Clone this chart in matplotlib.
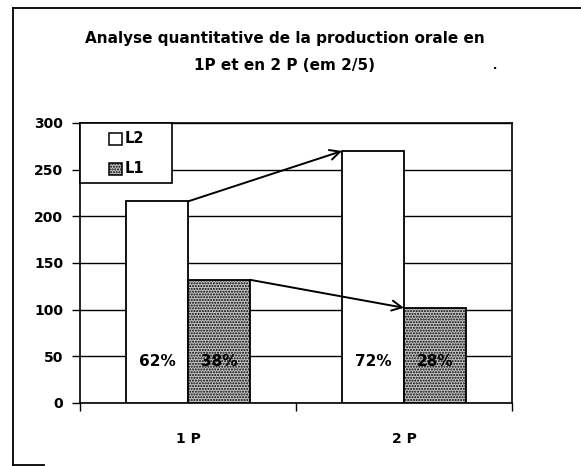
import matplotlib.pyplot as plt
from matplotlib.patches import Rectangle
from matplotlib.lines import Line2D

# --- data ---
categories = ['1 P', '2 P']
series_names = ['L2', 'L1']
l2_values = [216, 270]
l1_values = [132, 102]
l2_pct = ['62%', '72%']
l1_pct = ['38%', '28%']

plt.rcParams['font.family'] = ['DejaVu Sans']
plt.rcParams['font.weight'] = 'bold'
plt.rcParams['hatch.linewidth'] = 1.0

W, H = 581, 466
fig = plt.figure(figsize=(W / 100, H / 100), dpi=100)
ax = fig.add_axes([80 / W, 63 / H, 432 / W, 280 / H])

# scanned page frame: left edge, top edge and a short bottom stub
fig.add_artist(Line2D([13 / W, 13 / W], [1 - 8 / H, 1 - 465 / H], color='black', lw=1.3))
fig.add_artist(Line2D([13 / W, 1.0], [1 - 8 / H, 1 - 8 / H], color='black', lw=1.3))
fig.add_artist(Line2D([13 / W, 44 / W], [1 - 465 / H, 1 - 465 / H], color='black', lw=1.3))

x = list(range(len(categories)))
w = 0.287
x_l2 = [i - w / 2 for i in x]
x_l1 = [i + w / 2 for i in x]
l1_face = '#c4c4c4'
l1_hatch = '......'

ax.bar(x_l2, l2_values, width=w, color='white', edgecolor='black', linewidth=1.3, zorder=3)
ax.bar(x_l1, l1_values, width=w, color=l1_face, edgecolor='black', linewidth=1.3,
       hatch=l1_hatch, zorder=3)

# percentage labels inside the bars
for i in x:
    ax.text(x_l2[i], 45, l2_pct[i], ha='center', va='center', fontsize=11, zorder=5)
    ax.text(x_l1[i], 45, l1_pct[i], ha='center', va='center', fontsize=11, zorder=5)

# arrows from 1P bars to 2P bars
arrow_style = dict(arrowstyle='->', color='black', lw=1.4, mutation_scale=18, shrinkA=0, shrinkB=0)
ax.annotate('', xy=(x_l2[1] - w / 2, l2_values[1]), xytext=(x_l2[0] + w / 2, l2_values[0]),
            arrowprops=arrow_style, zorder=6)
ax.annotate('', xy=(x_l1[1] - w / 2, l1_values[1]), xytext=(x_l1[0] + w / 2, l1_values[0]),
            arrowprops=arrow_style, zorder=6)

ax.set_xlim(-0.5, 1.5)
ax.set_ylim(0, 300)
ax.set_yticks(range(0, 301, 50))
ax.yaxis.grid(True, color='black', linewidth=1.0, zorder=0)
ax.set_axisbelow(True)
ax.tick_params(axis='y', labelsize=10, length=6, width=1, direction='out', pad=6)

ax.set_xticks(x)
ax.set_xticklabels(categories, fontsize=10)
ax.tick_params(axis='x', which='major', length=0, pad=21)
ax.set_xticks([-0.5, 0.5, 1.5], minor=True)
ax.tick_params(axis='x', which='minor', length=6, width=1, direction='out')

for s in ax.spines.values():
    s.set_linewidth(1.2)

# legend box in the top left corner (drawn by hand to get the wide padding)
ax.add_patch(Rectangle((0, 0.786), 0.213, 0.214, transform=ax.transAxes, facecolor='white',
                       edgecolor='black', linewidth=1.2, zorder=7, clip_on=False))
sq_w, sq_h = 13 / 432, 12 / 280
for yc, name, face, hatch in [(0.943, series_names[0], 'white', None),
                              (0.836, series_names[1], l1_face, l1_hatch)]:
    ax.add_patch(Rectangle((0.067, yc - sq_h / 2), sq_w, sq_h, transform=ax.transAxes,
                           facecolor=face, edgecolor='black', linewidth=1.1, hatch=hatch,
                           zorder=8, clip_on=False))
    ax.text(0.104, yc, name, transform=ax.transAxes, ha='left', va='center',
            fontsize=10.5, zorder=9)

fig.text(285 / W, 1 - 38 / H, 'Analyse quantitative de la production orale en',
         ha='center', va='center', fontsize=11)
fig.text(285 / W, 1 - 66 / H, '1P et en 2 P (em 2/5)',
         ha='center', va='center', fontsize=11)
# small stray mark from the scan, right of the second title line
fig.text(495 / W, 1 - 66 / H, '.', ha='center', va='center', fontsize=8)

fig.savefig('out.png', dpi=100)
